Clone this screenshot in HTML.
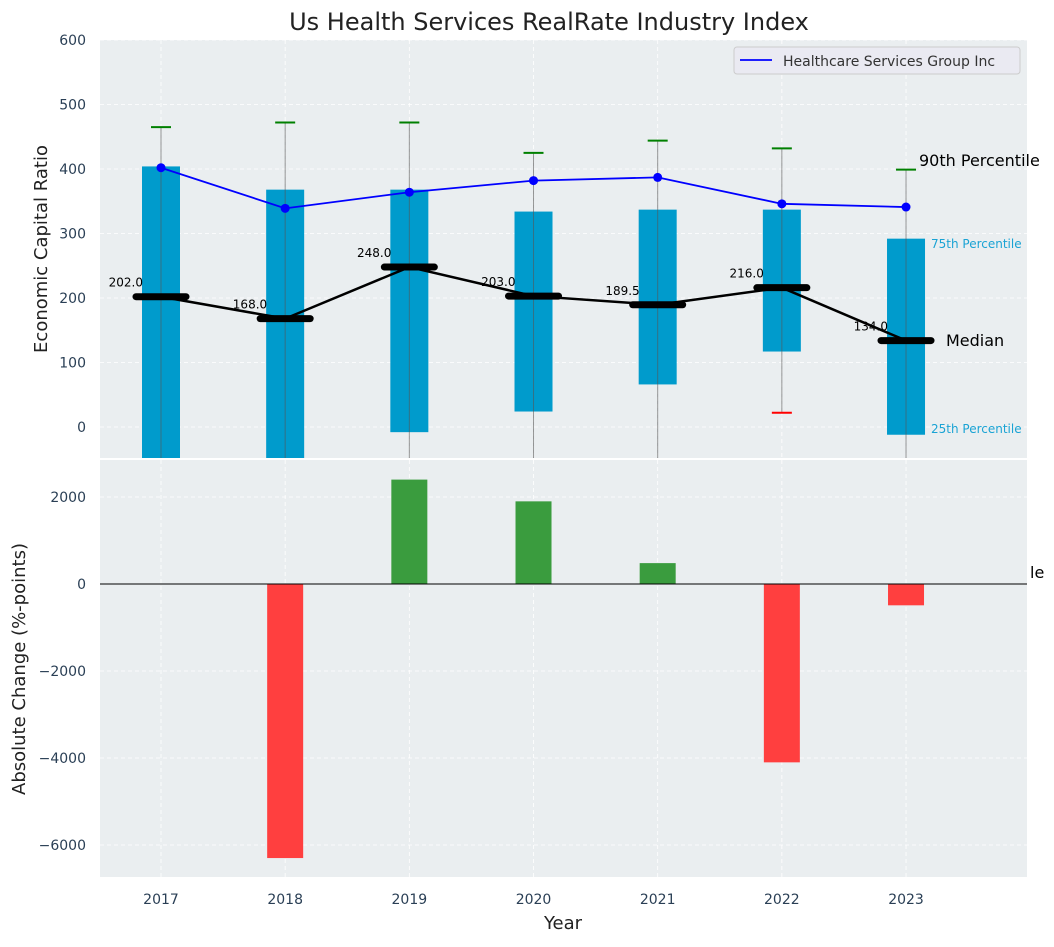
<!DOCTYPE html>
<html><head><meta charset="utf-8"><style>
body{margin:0;background:#fff;font-family:"Liberation Sans","DejaVu Sans",sans-serif;}
svg text{font-family:"DejaVu Sans","Liberation Sans",sans-serif;}
</style></head><body>
<svg id="chart" width="1054" height="942" xmlns="http://www.w3.org/2000/svg"></svg>
<script>
const years=["2017","2018","2019","2020","2021","2022","2023"];
const q25=[-120,-120,-8,24,66,117,-12];
const q75=[404,368,368,334,337,337,292];
const p90=[465,472,472,425,444,432,399];
const p10=[-200,-200,-200,-200,-200,22,-200];
const medians=[202,168,248,203,189.5,216,134];
const company=[402,339,364,382,387,346,341];
const changes=[0,-6300,2400,1900,480,-4100,-490];
const topTicks=[0,100,200,300,400,500,600];
const botTicks=[-6000,-4000,-2000,0,2000];

const svg=document.getElementById('chart');
const NS='http://www.w3.org/2000/svg';
function mk(tag,attrs,parent,text){const e=document.createElementNS(NS,tag);for(const k in attrs)e.setAttribute(k,attrs[k]);if(text!==undefined)e.textContent=text;(parent||svg).appendChild(e);return e;}
const L=100,R=1027;
const x=i=>161+i*124.17;
const yT=v=>427-v*0.645;
const yB=v=>584-v*0.0435;
const T0=40,T1=458,B0=460,B1=877;

let e;
e=mk('rect',{x:L,y:T0,width:R-L,height:T1-T0,fill:'#eaeef0'});

e=mk('rect',{x:L,y:B0,width:R-L,height:B1-B0,fill:'#eaeef0'});

const defs=mk('defs',{});
const c1=mk('clipPath',{id:'ct'},defs);mk('rect',{x:L,y:T0,width:R-L,height:T1-T0},c1);
const c2=mk('clipPath',{id:'cb'},defs);mk('rect',{x:L,y:B0,width:R-L,height:B1-B0},c2);
const gt=mk('g',{'clip-path':'url(#ct)'});
const gb=mk('g',{'clip-path':'url(#cb)'});

years.forEach((y,i)=>{
 mk('line',{x1:x(i),x2:x(i),y1:T0,y2:T1,stroke:'#fff','stroke-dasharray':'4,3','stroke-width':0.8},gt);
 mk('line',{x1:x(i),x2:x(i),y1:B0,y2:B1,stroke:'#fff','stroke-dasharray':'4,3','stroke-width':0.8},gb);
 e=mk('text',{x:x(i),y:904,'text-anchor':'middle','font-size':14,fill:'#2a3f55'},svg,y);
 
});
topTicks.forEach(v=>{
 mk('line',{x1:L,x2:R,y1:yT(v),y2:yT(v),stroke:'#fff','stroke-dasharray':'4,3','stroke-width':0.8},gt);
 e=mk('text',{x:86,y:yT(v)+5,'text-anchor':'end','font-size':14,fill:'#2a3f55'},svg,String(v));
 
});
botTicks.forEach(v=>{
 mk('line',{x1:L,x2:R,y1:yB(v),y2:yB(v),stroke:'#fff','stroke-dasharray':'4,3','stroke-width':0.8},gb);
 e=mk('text',{x:86,y:yB(v)+5,'text-anchor':'end','font-size':14,fill:'#2a3f55'},svg,(v<0?'\u2212'+(-v):String(v)));
 
});

years.forEach((y,i)=>{
 e=mk('rect',{x:x(i)-19,y:yT(q75[i]),width:38,height:yT(q25[i])-yT(q75[i]),fill:'#009bcc'},gt);
 
 e=mk('line',{x1:x(i),x2:x(i),y1:yT(p90[i]),y2:yT(p10[i]),stroke:'#555','stroke-width':1,'stroke-opacity':0.6},gt);
 
 e=mk('line',{x1:x(i)-10,x2:x(i)+10,y1:yT(p90[i]),y2:yT(p90[i]),stroke:'green','stroke-width':2},gt);
 
 if(p10[i]>-48){
  e=mk('line',{x1:x(i)-10,x2:x(i)+10,y1:yT(p10[i]),y2:yT(p10[i]),stroke:'red','stroke-width':2},gt);
  
 }
});
e=mk('polyline',{points:medians.map((v,i)=>x(i)+','+yT(v)).join(' '),fill:'none',stroke:'#000','stroke-width':2.5},gt);

medians.forEach((v,i)=>{
 e=mk('line',{x1:x(i)-25,x2:x(i)+25,y1:yT(v),y2:yT(v),stroke:'#000','stroke-width':7,'stroke-linecap':'round'},gt);
 
 e=mk('text',{x:x(i)-18,y:yT(v)-10,'text-anchor':'end','font-size':12,fill:'#000'},svg,v.toFixed(1));
 
});
e=mk('polyline',{points:company.map((v,i)=>x(i)+','+yT(v)).join(' '),fill:'none',stroke:'#0000ff','stroke-width':1.8},gt);

company.forEach((v,i)=>{
 e=mk('circle',{cx:x(i),cy:yT(v),r:4.5,fill:'#0000ff'},gt);
 
});
e=mk('text',{x:919,y:166,'font-size':16,fill:'#000'},svg,'90th Percentile');
e=mk('text',{x:946,y:346,'font-size':16,fill:'#000'},svg,'Median');
e=mk('text',{x:931,y:248,'font-size':12,fill:'#1aa3d4'},svg,'75th Percentile');
e=mk('text',{x:931,y:433,'font-size':12,fill:'#1aa3d4'},svg,'25th Percentile');
e=mk('text',{x:1030,y:578,'font-size':16,fill:'#000'},svg,'le');

changes.forEach((v,i)=>{
 if(v===0)return;
 const y0=yB(Math.max(v,0)),y1=yB(Math.min(v,0));
 e=mk('rect',{x:x(i)-18,y:y0,width:36,height:y1-y0,fill:v>0?'#3a9c3e':'#ff3f3f'},gb);
 
});
e=mk('line',{x1:L,x2:R,y1:yB(0),y2:yB(0),stroke:'#000','stroke-width':1},svg);


const lg=mk('g',{});
mk('rect',{x:734,y:47,width:286,height:27,rx:3,fill:'#eaeaf2',stroke:'#ccc'},lg);
mk('line',{x1:740,x2:772,y1:60,y2:60,stroke:'#0000ff','stroke-width':1.8},lg);
e=mk('text',{x:783,y:66,'font-size':14,fill:'#333'},lg,'Healthcare Services Group Inc');


e=mk('text',{x:549,y:30,'text-anchor':'middle','font-size':24,fill:'#222'},svg,'Us Health Services RealRate Industry Index');

e=mk('text',{x:47,y:249,'text-anchor':'middle','font-size':18,fill:'#222',transform:'rotate(-90 47 249)'},svg,'Economic Capital Ratio');

e=mk('text',{x:25,y:669,'text-anchor':'middle','font-size':18,fill:'#222',transform:'rotate(-90 25 669)'},svg,'Absolute Change (%-points)');

e=mk('text',{x:563,y:929,'text-anchor':'middle','font-size':18,fill:'#222'},svg,'Year');

</script>
</body></html>
